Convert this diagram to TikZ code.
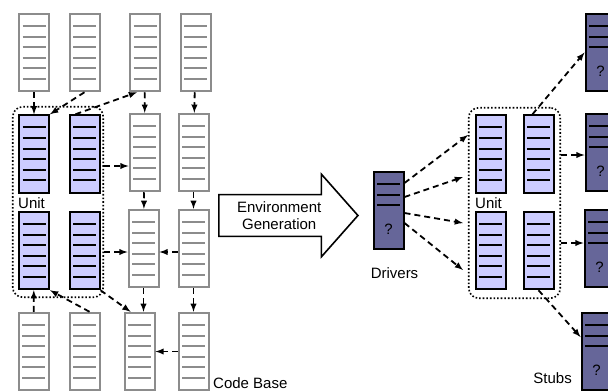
\documentclass[tikz,border=0pt]{standalone}
\usepackage{fontspec}
\setmainfont{Liberation Sans}
\usetikzlibrary{shapes.arrows}

\definecolor{LegacyColor}{rgb}{0.55,0.55,0.55}
\definecolor{UnitColor}{rgb}{0.8,0.8,1.0}
\definecolor{GeneratedColor}{rgb}{0.4,0.4,0.6}

\tikzset{ruled/.style 2 args={path picture={
    \foreach \k in {1,...,#2}
      \draw[#1, line width=2pt]
        ([xshift=3.5pt, yshift=-1.6pt-\k*10.6pt]path picture bounding box.north west) --
        ([xshift=-3.5pt, yshift=-1.6pt-\k*10.6pt]path picture bounding box.north east);}}}

\tikzstyle{base}=[rectangle,
                  line width=2pt,
                  minimum width=30pt,
                  minimum height=77.5pt,
                  inner sep=0pt]
\tikzstyle{legacy}=[base, draw=LegacyColor, fill=white, ruled={LegacyColor}{6}]
\tikzstyle{unit}=[base, draw=black, fill=UnitColor, ruled={black}{6}]
\tikzstyle{generated}=[base, draw=black, fill=GeneratedColor, ruled={black}{3},
                       text height=47pt, text depth=0pt]
\tikzstyle{group}=[rectangle, draw=black, dotted, line width=1.6pt, rounded corners=10pt]
\tikzstyle{link}=[-latex, line width=1.8pt, dash pattern=on 6pt off 4pt]
\tikzstyle{caption}=[inner sep=0pt]

\begin{document}
\begin{tikzpicture}[x=1pt, y=-1pt,
                    font=\fontsize{15}{17}\selectfont]
  \useasboundingbox (0,0) rectangle (608,391);

  \node at ( 58.0, 202.0) (unit_group) [group, minimum width=90.5pt, minimum height=190.5pt] {};
  \node at (514.5, 203.0) (test_group) [group, minimum width=91.5pt, minimum height=190.5pt] {};

  \node at ( 34.0,  52.5) (code_11) [legacy] {};
  \node at ( 84.5,  52.5) (code_12) [legacy] {};
  \node at (145.0,  52.5) (code_13) [legacy] {};
  \node at (195.5,  52.5) (code_14) [legacy] {};
  \node at ( 34.0, 154.0) (unit_1)  [unit]   {};
  \node at ( 84.5, 154.0) (unit_2)  [unit]   {};
  \node at (144.5, 152.5) (code_23) [legacy] {};
  \node at (193.5, 152.5) (code_24) [legacy] {};
  \node at ( 34.0, 250.5) (unit_3)  [unit]   {};
  \node at ( 84.5, 250.5) (unit_4)  [unit]   {};
  \node at (143.5, 248.5) (code_33) [legacy] {};
  \node at (193.5, 248.5) (code_34) [legacy] {};
  \node at ( 33.5, 351.5) (code_41) [legacy] {};
  \node at ( 84.5, 351.5) (code_42) [legacy] {};
  \node at (139.5, 351.5) (code_43) [legacy] {};
  \node at (193.5, 351.5) (code_44) [legacy] {};

  \node at (359.0, 215.5) (env_gen) [single arrow, draw=black, line width=1.6pt, anchor=tip,
                                     minimum height=139pt, single arrow head extend=20.5pt,
                                     single arrow tip angle=97, inner ysep=6pt,
                                     align=center] {Environment\\Generation};

  \node at (388.5, 210.5) (driver)      [generated] {?};
  \node at (490.5, 154.0) (test_unit_1) [unit]      {};
  \node at (538.5, 154.0) (test_unit_2) [unit]      {};
  \node at (490.5, 250.5) (test_unit_3) [unit]      {};
  \node at (538.5, 250.5) (test_unit_4) [unit]      {};
  \node at (600.5,  52.5) (stub_1)      [generated] {?};
  \node at (600.5, 152.5) (stub_2)      [generated] {?};
  \node at (599.5, 248.5) (stub_3)      [generated] {?};
  \node at (596.5, 351.5) (stub_4)      [generated] {?};

  \node at ( 18.0, 203.0) (unit_label)      [caption, anchor=west] {Unit};
  \node at (475.0, 203.0) (test_unit_label) [caption, anchor=west] {Unit};
  \node at (394.5, 273.0) (drivers_label)   [caption]              {Drivers};
  \node at (572.0, 378.5) (stubs_label)     [caption, anchor=east] {Stubs};
  \node at (213.0, 383.0) (code_base_label) [caption, anchor=west] {Code Base};

  \draw[link] (code_11)                       -- (unit_1);
  \draw[link] (code_12.south)                 -- (unit_1.north east);
  \draw[link] ([xshift=-9pt]unit_2.north)     -- ([xshift=-8pt]code_13.south);
  \draw[link] (code_13)                       -- (code_23);
  \draw[link] (code_14)                       -- (code_24);
  \draw[link] ([yshift=36pt]unit_group.east)  -- ([yshift=-13.5pt]code_23.west);
  \draw[link] (code_23)                       -- (code_33);
  \draw[link] (code_24)                       -- (code_34);
  \draw[link] ([yshift=-50pt]unit_group.east) -- ([yshift=-3.5pt]code_33.west);
  \draw[link] ([yshift=-3.5pt]code_34.west)   -- ([yshift=-3.5pt]code_33.east);
  \draw[link] (code_33.south)                 -- (code_33.south |- code_43.north);
  \draw[link] (code_34)                       -- (code_44);
  \draw[link] (code_41)                       -- (unit_3);
  \draw[link] ([xshift=5pt]code_42.north)     -- (unit_3.south east);
  \draw[link] (unit_4.south east)             -- ([xshift=-9pt]code_43.north);
  \draw[link] (code_44)                       -- (code_43);

  \draw[link] ([yshift=27.5pt]driver.east)    -- ([yshift=68pt]test_group.west);
  \draw[link] ([yshift=13.5pt]driver.east)    -- ([xshift=-5pt, yshift=26pt]test_group.west);
  \draw[link] ([yshift=-2.5pt]driver.east)    -- ([xshift=-5pt, yshift=-20pt]test_group.west);
  \draw[link] ([yshift=-12.5pt]driver.east)   -- ([xshift=-5pt, yshift=-67pt]test_group.west);
  \draw[link] ([xshift=-6pt]test_unit_2.north) -- (stub_1.west);
  \draw[link] ([yshift=48pt]test_group.east)  -- ([yshift=-2.5pt]stub_2.west);
  \draw[link] ([yshift=-40pt]test_group.east) -- ([yshift=5.5pt]stub_3.west);
  \draw[link] (test_unit_4.south)             -- ([yshift=14.5pt]stub_4.west);
\end{tikzpicture}
\end{document}
